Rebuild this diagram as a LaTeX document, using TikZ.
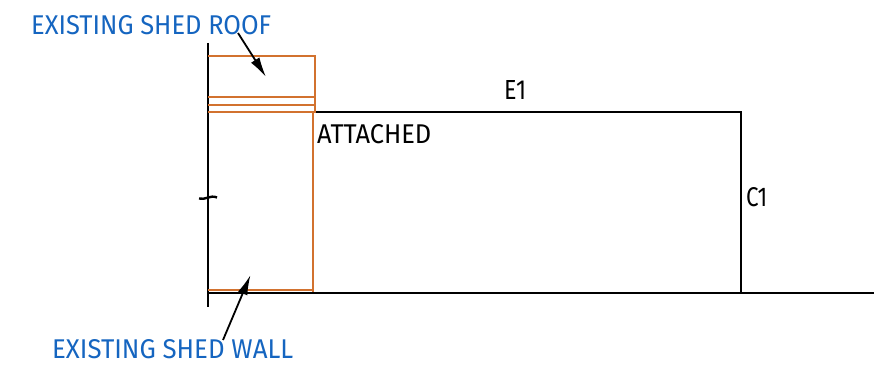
\documentclass[tikz,border=0pt]{standalone}
\usepackage{fontspec}
\setmainfont{Fira Sans}
\usetikzlibrary{arrows.meta}
\definecolor{shedorange}{HTML}{D2722F}
\definecolor{noteblue}{HTML}{1565C0}
\tikzset{
  x=1pt,y=-1pt,
  blk/.style={draw=black,line width=2pt},
  shed/.style={draw=shedorange,line width=2.4pt},
  lead/.style={draw=black,line width=1.8pt,-{Latex[length=20pt,width=10pt]}},
  lbl/.style={inner sep=0pt,font=\fontsize{19}{22}\selectfont,text=black},
  note/.style={lbl,text=noteblue},
}
\begin{document}
\begin{tikzpicture}
\useasboundingbox (0,0) rectangle (874,371);
\coordinate (wallTop) at (208,43);
\coordinate (wallBot) at (208,307);
\coordinate (groundL) at (208,293);
\coordinate (groundR) at (874,293);
\coordinate (e1L) at (315,112);
\coordinate (e1R) at (741,112);
\coordinate (c1B) at (741,293);
\coordinate (roofTail) at (238,33);
\coordinate (roofTip) at (266,77);
\coordinate (wallTail) at (223,340);
\coordinate (wallTip) at (250.5,275);
% black structure
\draw[blk] (wallTop) -- (wallBot);
\draw[blk] (groundL) -- (groundR);
\draw[blk] (e1L) -- (e1R) -- (c1B);
% tick
\draw[draw=black,line width=2.4pt] (199,198.5) .. controls (205,200.5) and (210,194.5) .. (217,197.5);
% shed
\draw[shed] (208,56) -- (315,56) -- (315,112) -- (208,112);
\draw[shed] (208,97) -- (315,97);
\draw[shed] (208,105) -- (315,105);
\draw[shed] (313,112) -- (313,292);
\draw[shed] (208,290) -- (313,290);
% leaders
\draw[lead] (roofTail) -- (roofTip);
\draw[lead] (wallTail) -- (wallTip);
% labels
\node[note,anchor=west] (roofL) at (31,25) {\resizebox{240pt}{19pt}{EXISTING SHED ROOF}};
\node[note,anchor=west] (wallL) at (52,349) {\resizebox{241pt}{19pt}{EXISTING SHED WALL}};
\node[lbl,anchor=west] (attached) at (317,134) {\resizebox{114pt}{19pt}{ATTACHED}};
\node[lbl,anchor=west] (e1) at (504,90) {\resizebox{22pt}{19pt}{E1}};
\node[lbl,anchor=west] (c1) at (746,197) {\resizebox{21pt}{19pt}{C1}};
\end{tikzpicture}
\end{document}
